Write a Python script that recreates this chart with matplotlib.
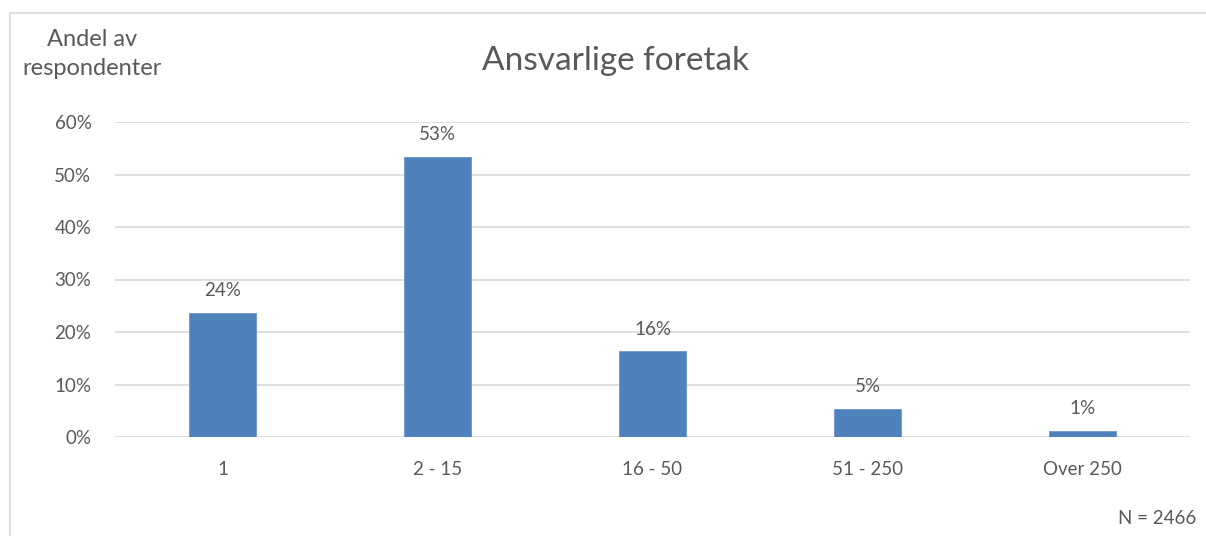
import matplotlib.pyplot as plt
from matplotlib.lines import Line2D
from matplotlib.ticker import PercentFormatter

categories = ["1", "2 - 15", "16 - 50", "51 - 250", "Over 250"]
shares = [23.6, 53.3, 16.3, 5.3, 1.1]
labels = ["24%", "53%", "16%", "5%", "1%"]

TEXT = "#595959"
GRID = "#D9D9D9"
BAR = "#4F81BD"

plt.rcParams["font.family"] = ["Lato", "DejaVu Sans"]

fig = plt.figure(figsize=(12.06, 5.36), dpi=100)
W, H = 1206, 536
ax = fig.add_axes([115 / W, 1 - 437 / H, (1190 - 115) / W, (437 - 122) / H])

x = range(len(categories))
bars = ax.bar(x, shares, width=0.31, color=BAR, edgecolor="#6D95C9", linewidth=0.6, zorder=3)
for b, lab in zip(bars, labels):
    ax.annotate(lab, (b.get_x() + b.get_width() / 2, b.get_height()),
                xytext=(0, 10), textcoords="offset points", ha="center", va="bottom",
                fontsize=13.5, color=TEXT)

ax.set_xlim(-0.5, len(categories) - 0.5)
ax.set_ylim(0, 60)
ax.set_yticks(range(0, 61, 10))
ax.yaxis.set_major_formatter(PercentFormatter(decimals=0))
ax.set_xticks(list(x))
ax.set_xticklabels(categories)
ax.tick_params(axis="both", length=0, labelsize=13.5, labelcolor=TEXT)
ax.tick_params(axis="y", pad=17)
ax.tick_params(axis="x", pad=17)
ax.grid(axis="y", color=GRID, linewidth=1.2, zorder=0)
for s in ax.spines.values():
    s.set_visible(False)

fig.text(615 / W, 1 - 61 / H, "Ansvarlige foretak", fontsize=24, color=TEXT, va="center", ha="center")
fig.text(92 / W, 1 - 54 / H, "Andel av\nrespondenter", fontsize=17, color=TEXT,
         va="center", ha="center", linespacing=1.45)
fig.text(1196 / W, 1 - 519 / H, "N = 2466", fontsize=13.5, color=TEXT, va="center", ha="right")

# light chart-area frame
fig.add_artist(Line2D([10 / W, 10 / W], [0, 1 - 13 / H], color=GRID, linewidth=1.2))
fig.add_artist(Line2D([10 / W, 1], [1 - 13 / H, 1 - 13 / H], color=GRID, linewidth=1.2))

fig.savefig("out.png", dpi=100)
